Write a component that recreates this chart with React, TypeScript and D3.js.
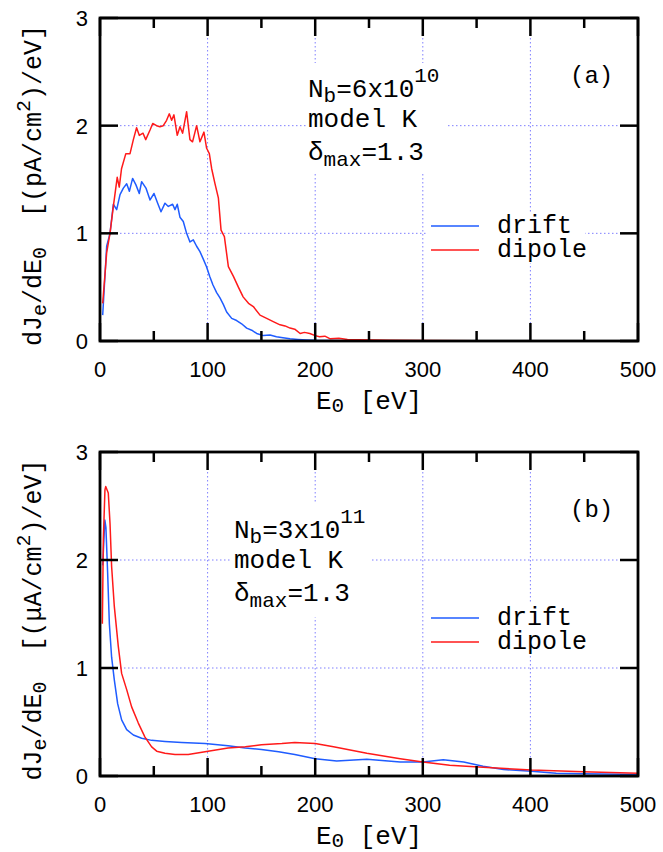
import React from "react";
import * as d3 from "d3";

// ---------- data ----------
const xTicksMajor = [0, 100, 200, 300, 400, 500];
const xTicksMinor = [50, 150, 250, 350, 450];
const yTicks = [0, 1, 2, 3];
const seriesNames = ["drift", "dipole"];

const topDrift: [number, number][] = [
  [2.5, 0.24], [6.2, 0.88], [9.3, 1.0], [12.4, 1.27], [15.5, 1.22], [18.6, 1.36], [21.7, 1.42],
  [24.8, 1.46], [27.3, 1.39], [30.3, 1.51], [33.4, 1.45], [36.5, 1.37], [38.7, 1.48], [42.7, 1.42],
  [46.5, 1.31], [50.2, 1.37], [53.6, 1.28], [56.7, 1.2], [60.4, 1.28], [63.5, 1.25], [67.5, 1.27],
  [69.7, 1.22], [71.8, 1.27], [74.3, 1.15], [77.4, 1.11], [80.5, 1.0], [83.6, 0.92], [86.7, 0.94],
  [89.8, 0.88], [92.9, 0.83], [96, 0.76], [99, 0.69], [102, 0.6], [105, 0.52], [108.4, 0.45],
  [111.5, 0.4], [114.6, 0.34], [117.7, 0.27], [122.4, 0.21], [127, 0.19], [131.6, 0.16],
  [136.3, 0.12], [141, 0.1], [145.6, 0.07], [151.8, 0.05], [158, 0.055], [164, 0.04], [170, 0.03],
  [176.6, 0.02], [184, 0.015], [192, 0.01], [200, 0.006], [215, 0.004], [230, 0.003], [260, 0.002],
  [300, 0.001], [350, 0.001], [400, 0], [450, 0], [500, 0],
];
const topDipole: [number, number][] = [
  [2.5, 0.35], [6.2, 0.82], [9.3, 1.0], [12.4, 1.25], [16, 1.52], [17.9, 1.43], [20, 1.6], [24, 1.74],
  [27.9, 1.74], [31, 1.87], [34, 1.98], [36.5, 1.91], [40, 1.93], [42.5, 1.87], [46.5, 1.96], [49, 2.02],
  [52.6, 2.0], [55.7, 1.99], [58.8, 2.0], [61.9, 2.05], [64.4, 2.11], [66.6, 2.05], [68.7, 2.1],
  [71.8, 1.91], [74.3, 1.99], [76.8, 1.93], [80.5, 2.13], [83.6, 1.87], [86, 1.85], [89.8, 2.0],
  [92.9, 1.85], [96.6, 1.94], [99.1, 1.79], [101.6, 1.74], [103.8, 1.6], [106.9, 1.46], [110, 1.33],
  [112.5, 1.03], [115.6, 0.97], [119.3, 0.69], [124, 0.6], [128.6, 0.5], [133, 0.41], [138, 0.35],
  [142.5, 0.32], [148.7, 0.24], [154.9, 0.21], [161, 0.18], [167.3, 0.15], [172, 0.14], [176.6, 0.12],
  [181, 0.11], [186, 0.07], [190, 0.08], [195, 0.07], [200, 0.05], [204, 0.04], [209, 0.045],
  [214, 0.02], [222, 0.025], [230, 0.015], [240, 0.012], [255, 0.01], [270, 0.006], [300, 0.004],
  [350, 0.003], [400, 0.002], [450, 0.002], [500, 0.002],
];
const bottomDrift: [number, number][] = [
  [2.5, 1.95], [4.5, 2.37], [5.5, 2.3], [7.1, 1.88], [8.7, 1.41], [10.8, 1.1], [13.3, 0.89],
  [16.4, 0.67], [20.1, 0.52], [24.8, 0.43], [31, 0.38], [38.7, 0.35], [48, 0.33], [60.4, 0.32],
  [75.9, 0.31], [97.6, 0.3], [119, 0.28], [135, 0.26], [150, 0.245], [166, 0.225], [181, 0.2],
  [200, 0.16], [220, 0.14], [248, 0.155], [279, 0.13], [300, 0.13], [319, 0.15], [338, 0.13],
  [356, 0.09], [375, 0.06], [401, 0.045], [424, 0.025], [449, 0.02], [500, 0.015],
];
const bottomDipole: [number, number][] = [
  [2.2, 1.41], [3.1, 2.19], [4.6, 2.65], [5.3, 2.68], [7.7, 2.62], [9.3, 2.34], [10.8, 1.94],
  [13.3, 1.57], [17, 1.2], [20.1, 0.95], [24.8, 0.8], [29.4, 0.64], [35.6, 0.49], [41.8, 0.36],
  [48, 0.27], [52.7, 0.23], [60.4, 0.21], [69.7, 0.2], [82, 0.2], [97.6, 0.225], [119, 0.26],
  [135, 0.27], [150, 0.29], [169, 0.3], [181, 0.31], [200, 0.3], [217, 0.27], [248, 0.21],
  [279, 0.16], [300, 0.13], [325, 0.1], [356, 0.08], [401, 0.055], [449, 0.04], [500, 0.025],
];

const BLUE = "#1f5cff";
const RED = "#ff1a1a";
const GRID = "#7f7fff";
const MONO = "'Liberation Mono', 'DejaVu Sans Mono', monospace";
const SANS = "'Liberation Sans', Arial, sans-serif";

type PanelProps = {
  top: number;
  bottom: number;
  drift: [number, number][];
  dipole: [number, number][];
  unit: string;
  nb: string;
  exp: string;
  tag: string;
  labelX: number;
  labelY: number;
  labelBox: [number, number, number, number];
  legendY: number;
};

function Panel(p: PanelProps) {
  const left = 100, right = 638;
  const x = d3.scaleLinear().domain([0, 500]).range([left, right]);
  const y = d3.scaleLinear().domain([0, 3]).range([p.bottom, p.top]);
  const line = d3.line<[number, number]>().x((d) => x(d[0])).y((d) => y(d[1]));
  const major = 18, minor = 10;
  const lg = p.legendY;
  return (
    <g>
      {[100, 200, 300, 400].map((v) => (
        <line key={"gx" + v} x1={x(v)} x2={x(v)} y1={p.top} y2={p.bottom} stroke={GRID} strokeWidth={1} strokeDasharray="1.5,2.5" />
      ))}
      {[1, 2].map((v) => (
        <line key={"gy" + v} x1={left} x2={right} y1={y(v)} y2={y(v)} stroke={GRID} strokeWidth={1} strokeDasharray="1.5,2.5" />
      ))}
      <rect x={p.labelBox[0]} y={p.labelBox[1]} width={p.labelBox[2]} height={p.labelBox[3]} fill="white" />
      <rect x={427} y={lg - 14} width={158} height={51} fill="white" />
      <path d={line(p.drift) || ""} fill="none" stroke={BLUE} strokeWidth={1.5} strokeLinejoin="round" />
      <path d={line(p.dipole) || ""} fill="none" stroke={RED} strokeWidth={1.5} strokeLinejoin="round" />
      {xTicksMajor.map((v) => (
        <g key={"tx" + v}>
          <line x1={x(v)} x2={x(v)} y1={p.bottom} y2={p.bottom - major} stroke="black" strokeWidth={2.5} />
          <line x1={x(v)} x2={x(v)} y1={p.top} y2={p.top + major} stroke="black" strokeWidth={2.5} />
          <text x={x(v)} y={p.bottom + 36} textAnchor="middle" fontFamily={SANS} fontSize={22}>{v}</text>
        </g>
      ))}
      {xTicksMinor.map((v) => (
        <g key={"tm" + v}>
          <line x1={x(v)} x2={x(v)} y1={p.bottom} y2={p.bottom - minor} stroke="black" strokeWidth={2.5} />
          <line x1={x(v)} x2={x(v)} y1={p.top} y2={p.top + minor} stroke="black" strokeWidth={2.5} />
        </g>
      ))}
      {yTicks.map((v) => (
        <g key={"ty" + v}>
          <line x1={left} x2={left + major} y1={y(v)} y2={y(v)} stroke="black" strokeWidth={2.5} />
          <line x1={right} x2={right - major} y1={y(v)} y2={y(v)} stroke="black" strokeWidth={2.5} />
          <text x={88} y={y(v) + 8} textAnchor="end" fontFamily={SANS} fontSize={22}>{v}</text>
        </g>
      ))}
      <rect x={left} y={p.top} width={right - left} height={p.bottom - p.top} fill="none" stroke="black" strokeWidth={2.8} />
      <text x={(left + right) / 2} y={p.bottom + 68} textAnchor="middle" fontFamily={MONO} fontSize={26}>
        E<tspan fontSize={21} dy={3}>0</tspan><tspan dy={-3}>{" [eV]"}</tspan>
      </text>
      <text transform={`translate(41,${(p.top + p.bottom) / 2 + 6}) rotate(-90)`} textAnchor="middle" fontFamily={MONO} fontSize={25} xmlSpace="preserve">
        dJ<tspan fontSize={20} dy={5}>e</tspan><tspan dy={-5}>/dE</tspan><tspan fontSize={20} dy={5}>0</tspan>
        <tspan dy={-5}>{"  [(" + p.unit + "A/cm"}</tspan><tspan fontSize={20} dy={-11}>2</tspan><tspan dy={11}>{")/eV]"}</tspan>
      </text>
      <g fontFamily={MONO} fontSize={26}>
        <text x={p.labelX} y={p.labelY}>
          N<tspan fontSize={21} dy={5}>b</tspan><tspan dy={-5}>{"=" + p.nb + "x10"}</tspan><tspan fontSize={21} dy={-15}>{p.exp}</tspan>
        </text>
        <text x={p.labelX} y={p.labelY + 30}>model K</text>
        <text x={p.labelX} y={p.labelY + 63}>
          δ<tspan fontSize={21} dy={6}>max</tspan><tspan dy={-6}>=1.3</tspan>
        </text>
        <text x={570} y={p.top + 65} fontSize={24}>{p.tag}</text>
      </g>
      <g fontFamily={MONO} fontSize={25}>
        <line x1={431} x2={479} y1={lg} y2={lg} stroke={BLUE} strokeWidth={1.5} />
        <text x={497} y={lg + 7}>{seriesNames[0]}</text>
        <line x1={431} x2={479} y1={lg + 24} y2={lg + 24} stroke={RED} strokeWidth={1.5} />
        <text x={497} y={lg + 31}>{seriesNames[1]}</text>
      </g>
    </g>
  );
}

export default function App() {
  return (
    <svg width={663} height={852} style={{ position: "absolute", left: 0, top: 0, background: "white" }}>
      <rect width={663} height={852} fill="white" />
      <Panel top={18} bottom={341} drift={topDrift} dipole={topDipole} unit="p" nb="6" exp="10" tag="(a)"
        labelX={308} labelY={97} labelBox={[306, 63, 140, 110]} legendY={226} />
      <Panel top={452} bottom={776} drift={bottomDrift} dipole={bottomDipole} unit="μ" nb="3" exp="11" tag="(b)"
        labelX={234} labelY={538} labelBox={[232, 503, 140, 114]} legendY={618} />
    </svg>
  );
}
